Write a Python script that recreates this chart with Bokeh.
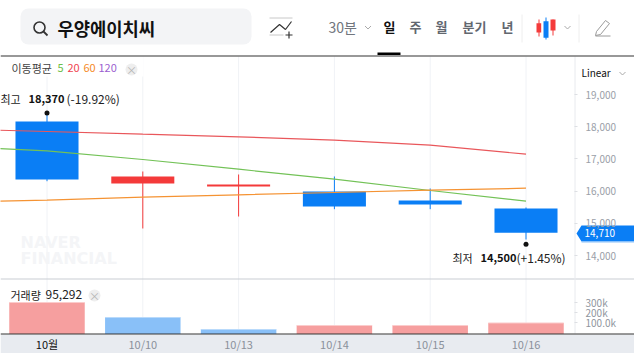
from bokeh.plotting import figure
from bokeh.embed import file_html
from bokeh.resources import INLINE
from bokeh.models import Range1d, LinearAxis, FixedTicker, NumeralTickFormatter, BoxAnnotation
from bokeh.core.properties import value

# ---- data ----
days = [0, 1, 2, 3, 4, 5]
date_labels = ["10월", "10/10", "10/13", "10/14", "10/15", "10/16"]
opens = [18165, 16239, 16146, 15990, 15711, 15463]
closes = [16363, 16457, 16208, 15525, 15590, 14710]
highs = [18370, 16612, 16519, 16457, 16084, 15494]
lows = [16310, 14842, 15214, 15441, 15441, 14500]
volumes = [300000, 150000, 30000, 70000, 70000, 95292]
volume_up = [True, False, False, True, True, True]

ma_x = [-1, 0, 1, 2, 3, 4, 5]
ma5 = [17388, 17255, 16984, 16683, 16373, 16022, 15689]
ma20 = [17932, 17854, 17770, 17689, 17584, 17429, 17149]
ma60 = [15658, 15720, 15814, 15888, 15960, 16031, 16093]

price_ticks = [14000, 15000, 16000, 17000, 18000, 19000]
volume_ticks = [100000, 200000, 300000]
volume_tick_labels = {100000: "100.0k", 200000: "200k", 300000: "300k"}
stock_name = "우양에이치씨"
tabs = ["일", "주", "월", "분기", "년"]
last_price = "14,710"

FONT = value("Noto Sans CJK KR")
LATIN = "Noto Sans CJK KR"
UP, DOWN = "#f43a3a", "#0a7ef5"

W, H = 634, 353
p = figure(width=W, height=H, output_backend="svg", toolbar_location=None,
           x_axis_location=None, y_axis_location=None, min_border=0,
           margin=(0, 0, 0, 0), outline_line_color=None,
           x_range=Range1d(-46.5 / 95.8, (634 - 46.5) / 95.8),
           y_range=Range1d(10960, 21922))
p.grid.visible = False
p.background_fill_color = "white"
p.border_fill_color = "white"
p.extra_x_ranges["px"] = Range1d(0, W)
p.extra_y_ranges["px"] = Range1d(H, 0)
p.extra_y_ranges["vol"] = Range1d(-210000, 3320000)

PX = dict(x_range_name="px", y_range_name="px")


def label(x, y, s, size=11, color="#333333", style="normal", align="left", font=FONT):
    p.text([x], [y - 1], text=[s], text_font=font, text_font_size=f"{size}px",
           text_color=color, text_font_style=style, text_align=align,
           text_baseline="middle", **PX)


def seg(x0, y0, x1, y1, color, width=1.0):
    p.line([x0, x1], [y0, y1], line_color=color, line_width=width, **PX)


# ---- grid ----
p.segment(days, [56] * 6, days, [333] * 6, line_color="#f0f2f6", line_width=1, y_range_name="px")
p.quad([0], [143], [76], [56], fill_color="white", line_color=None, **PX)

# ---- watermark ----
label(20, 243, "NAVER", 16, "#f4f5f7", "bold", font=value("DejaVu Sans"))
label(20, 259, "FINANCIAL", 16, "#f4f5f7", "bold", font=value("DejaVu Sans"))

# ---- candles ----
cols = [UP if c > o else DOWN for o, c in zip(opens, closes)]
p.segment(days, lows, days, highs, line_color=cols, line_width=1)
p.vbar(days, 0.658, [min(o, c) for o, c in zip(opens, closes)],
       [max(o, c) for o, c in zip(opens, closes)], fill_color=cols, line_color=None)

# ---- moving averages ----
p.line(ma_x, ma20, line_color="#e9575b", line_width=1.2)
p.line(ma_x, ma5, line_color="#73c257", line_width=1.2)
p.line(ma_x, ma60, line_color="#f59333", line_width=1.2)

# ---- high/low markers ----
p.scatter([0], [18430], size=5, marker="circle", fill_color="#111111", line_color=None)
p.scatter([5], [14350], size=5, marker="circle", fill_color="#111111", line_color=None)
label(0, 99, "최고", 11, "#222222")
label(28, 99, "18,370", 11, "#111111", "bold")
label(66, 99, "(-19.92%)", 12, "#222222")
label(452, 258, "최저", 11, "#222222")
label(480, 258, "14,500", 11, "#111111", "bold")
label(516, 258, "(+1.45%)", 12, "#222222")

# ---- volume ----
vcols = ["#f69a9a" if u else "#83bdf8" for u in volume_up]
vtop = ["#fbcccc" if u else "#b9dafb" for u in volume_up]
p.vbar(days, 0.788, -15000, volumes, fill_color=vcols, line_color=None, fill_alpha=0.95, y_range_name="vol")
p.segment([d - 0.394 for d in days], volumes, [d + 0.394 for d in days], volumes,
          line_color=vtop, line_width=1, y_range_name="vol")

# ---- panel frame lines ----
seg(0, 278.5, W, 278.5, "#c9cdd3", 1)
seg(574.5, 56, 574.5, 333, "#e8eaee", 1)
p.quad([0], [W], [353], [334], fill_color="#e8ebf0", line_color=None, **PX)
seg(0, 333.5, W, 333.5, "#333333", 1)
seg(0, 55.5, W, 55.5, "#333333", 1.2)

# ---- axes ----
pa = LinearAxis(fixed_location=(574 - 46.5) / 95.8, ticker=FixedTicker(ticks=price_ticks),
                formatter=NumeralTickFormatter(format="0,0"), axis_line_color=None,
                major_tick_in=0, major_tick_out=3, minor_tick_line_color=None,
                major_tick_line_color="#dddfe3", major_label_standoff=8,
                major_label_text_color="#9aa0a8", major_label_text_font=LATIN,
                major_label_text_font_size="10px")
p.add_layout(pa, "right")
va = LinearAxis(fixed_location=(574 - 46.5) / 95.8, y_range_name="vol",
                ticker=FixedTicker(ticks=volume_ticks),
                major_label_overrides=volume_tick_labels, axis_line_color=None,
                major_tick_in=0, major_tick_out=3, minor_tick_line_color=None,
                major_tick_line_color="#dddfe3", major_label_standoff=8,
                major_label_text_color="#8f959e", major_label_text_font=LATIN,
                major_label_text_font_size="10px")
p.add_layout(va, "right")
BAND_Y = 18000 - (329 - 126.3) / 0.0322
xa = LinearAxis(fixed_location=BAND_Y, ticker=FixedTicker(ticks=days[1:]),
                major_label_overrides={d: s for d, s in zip(days, date_labels)},
                axis_line_color=None, major_tick_line_color=None, minor_tick_line_color=None,
                major_label_standoff=0, major_label_text_color="#8b919b",
                major_label_text_font=LATIN, major_label_text_font_size="11px")
p.add_layout(xa, "below")
xb = LinearAxis(fixed_location=BAND_Y, ticker=FixedTicker(ticks=days[:1]),
                major_label_overrides={d: s for d, s in zip(days, date_labels)},
                axis_line_color=None, major_tick_line_color=None, minor_tick_line_color=None,
                major_label_standoff=0, major_label_text_color="#111111",
                major_label_text_font=LATIN, major_label_text_font_size="11px")
p.add_layout(xb, "below")

# ---- price tag ----
p.patch([576, 581, 634, 634, 581], [233, 225, 225, 241, 241], fill_color=DOWN, line_color=None, **PX)
seg(581, 241.5, 634, 241.5, "#8cc2fa", 1)
label(584, 233, last_price, 10, "white")

# ---- legends ----
label(11, 68, "이동평균", 11, "#444444")
label(57, 68, "5", 11, "#6cc04a")
label(67, 68, "20", 11, "#f0444f")
label(83, 68, "60", 11, "#f58a1f")
label(98, 68, "120", 11, "#9b5fd0")
p.circle([131], [69], radius=6, fill_color="#eeeeee", line_color=None, **PX)
label(131, 70, "×", 11, "#b5b5b5", align="center")
label(10, 295, "거래량", 11, "#222222")
label(45, 295, "95,292", 12, "#222222")
p.circle([94], [295], radius=6, fill_color="#eeeeee", line_color=None, **PX)
label(94, 296, "×", 11, "#b5b5b5", align="center")
label(581, 73, "Linear", 10, "#111111")

# ---- header ----
p.add_layout(BoxAnnotation(left=20, right=251, top=8, bottom=44, fill_color="#f3f4f6", fill_alpha=1,
                           line_color=None, border_radius=8, level="underlay", **PX))
p.circle([39], [27], radius=5.5, fill_color=None, line_color="#333333", line_width=1.6, **PX)
seg(43, 31, 47, 35, "#333333", 1.8)
label(57, 28, stock_name, 17.7, "#111111", "bold")

seg(269, 17.5, 292, 17.5, "#c8c8c8", 1)
seg(269, 34.5, 283, 34.5, "#c8c8c8", 1)
p.line([270, 279, 285, 291], [32, 24, 29, 21], line_color="#333333", line_width=1.2, **PX)
seg(285, 34.5, 292, 34.5, "#333333", 1.2)
seg(288.5, 31, 288.5, 38, "#333333", 1.2)

label(328, 27, "30분", 14, "#71767e")
for cx, cy in [(367.5, 27), (567, 27), (622, 73)]:
    p.line([cx - 3, cx, cx + 3], [cy - 1.5, cy + 1.5, cy - 1.5], line_color="#aaaaaa", line_width=1, **PX)
for t, x, col in zip(tabs, [383, 409, 435, 462, 501],
                     ["#111111", "#62676f", "#62676f", "#62676f", "#62676f"]):
    label(x, 27, t, 13, col, "bold")
p.quad([377], [400], [54.5], [52], fill_color="#000000", line_color=None, **PX)
seg(521.5, 14, 521.5, 42, "#eeeeee", 1)
seg(578.5, 14, 578.5, 42, "#eeeeee", 1)

# candle icon
p.quad([536, 543, 550], [540.7, 548, 555], [32, 37.3, 30], [22.7, 20.7, 19],
       fill_color=[UP, DOWN, UP], line_color=None, **PX)
seg(538.5, 19, 538.5, 36, UP, 1)
seg(545.5, 17, 545.5, 39, DOWN, 1)
seg(552.5, 19, 552.5, 35, UP, 1)

# pencil icon
p.patch([596, 605, 609, 600, 595], [31, 20, 23, 34, 35], fill_color=None, line_color="#9a9a9a", line_width=1, **PX)
seg(595, 35.5, 610, 35.5, "#9a9a9a", 1)

open("out.html", "w").write(file_html(p, INLINE))
